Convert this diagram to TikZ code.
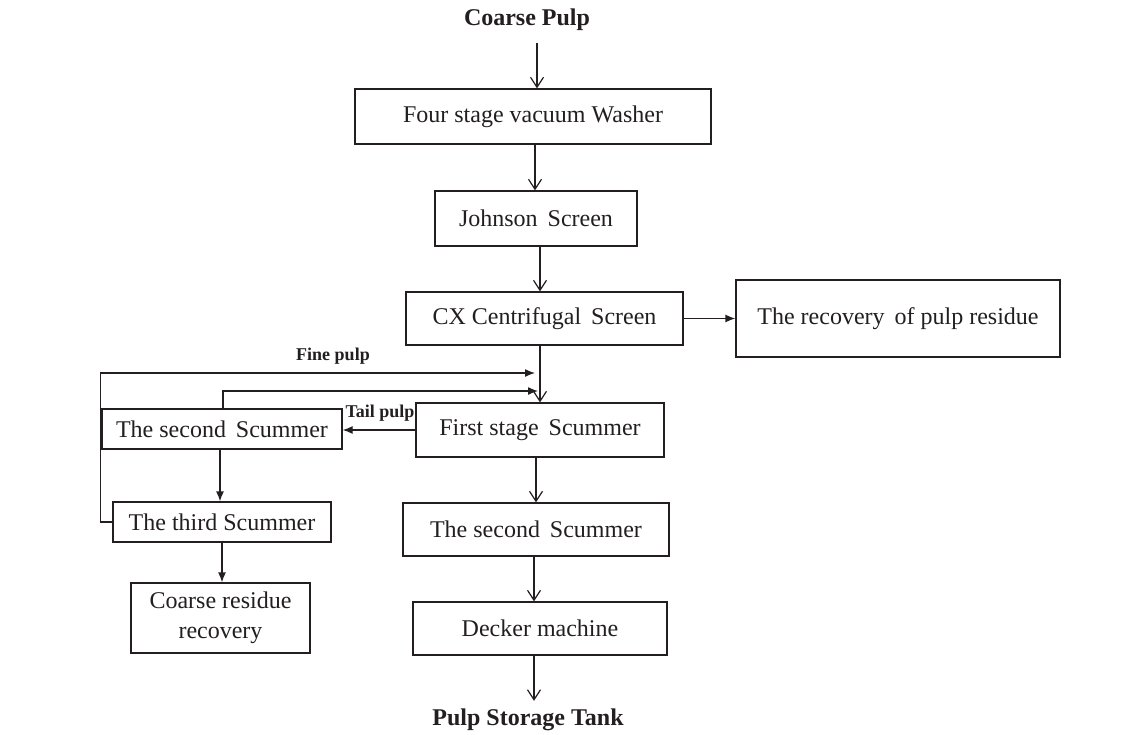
\documentclass[tikz,border=0pt]{standalone}
\usepackage{fontspec}
\setmainfont{Liberation Serif}
\usetikzlibrary{arrows.meta}
\definecolor{ink}{HTML}{231F20}
\tikzset{
  box/.style={draw=ink, line width=1.3pt, text=ink, inner sep=0pt, font=\fontsize{24}{30}\selectfont, align=center},
  varr/.style={draw=ink, line width=1.3pt, -{Straight Barb[length=10pt,width=13pt,line width=1.2pt]}},
  farr/.style={draw=ink, line width=1.3pt, -{Latex[length=10pt,width=8pt]}},
  biglbl/.style={text=ink, font=\fontsize{24}{28}\selectfont\bfseries, inner sep=0pt},
  smlbl/.style={text=ink, font=\fontsize{18}{21}\selectfont\bfseries, inner sep=0pt}
}
\begin{document}
\begin{tikzpicture}[x=1pt,y=-1pt]
\useasboundingbox (0,0) rectangle (1143,734);
\fill[white] (0,0) rectangle (1143,734);

\node[biglbl] (cp) at (527,20) {Coarse Pulp};
\node[box, minimum width=356pt, minimum height=55pt] (washer) at (533,116.5) {Four stage vacuum Washer};
\node[box, minimum width=202pt, minimum height=55pt] (johnson) at (536,218.5) {Johnson\, Screen};
\node[box, minimum width=277pt, minimum height=53pt] (cx) at (544.5,318.5) {CX Centrifugal\, Screen};
\node[box, minimum width=324pt, minimum height=77pt] (recov) at (898,318.5) {The recovery\, of pulp residue};
\node[box, minimum width=248pt, minimum height=54pt] (first) at (540,430) {First stage\, Scummer};
\node[box, minimum width=266pt, minimum height=53pt] (sec2) at (536,529.5) {The second\, Scummer};
\node[box, minimum width=254pt, minimum height=53pt] (decker) at (540,628.5) {Decker machine};
\node[biglbl] (tank) at (528,720) {Pulp Storage Tank};

\node[box, minimum width=240pt, minimum height=40pt] (sec1) at (222,429) {The second\, Scummer};
\node[box, minimum width=218pt, minimum height=40pt] (third) at (222,522) {The third Scummer};
\node[box, minimum width=179pt, minimum height=70pt] (cres) at (220.5,618) {Coarse residue\\recovery};

\node[smlbl] (finelbl) at (333,356) {Fine pulp};
\node[smlbl] (taillbl) at (380,413) {Tail pulp};

\coordinate (fineend) at (535,373);
\coordinate (tailend) at (538,391);

% main column
\draw[varr] ([xshift=10pt,yshift=-12pt]cp.south) -- ([xshift=10pt]cp.south |- washer.north);
\draw[varr] ([xshift=2pt]washer.south) -- ([xshift=2pt]washer.south |- johnson.north);
\draw[varr] ([xshift=4pt]johnson.south) -- ([xshift=4pt]johnson.south |- cx.north);
\draw[varr] ([xshift=-4.5pt]cx.south) -- ([xshift=-4.5pt]cx.south |- first.north);
\draw[varr] ([xshift=-4pt]first.south) -- ([xshift=-4pt]first.south |- sec2.north);
\draw[varr] ([xshift=-2pt]sec2.south) -- ([xshift=-2pt]sec2.south |- decker.north);
\draw[varr] ([xshift=-6pt]decker.south) -- ([xshift=-6pt,yshift=8pt]decker.south |- tank.north);

% side branch
\draw[farr] (cx.east) -- (cx.east -| recov.west);
\draw[farr] (first.west) -- (first.west -| sec1.east);
\draw[farr] ([xshift=-2pt]sec1.south) -- ([xshift=-2pt]sec1.south |- third.north);
\draw[farr] (third.south) -- (third.south |- cres.north);

% recycle loops
\draw[farr] (third.west) -- ++(-12,0) |- (fineend);
\draw[farr] ([xshift=1pt]sec1.north) |- (tailend);
\end{tikzpicture}
\end{document}
